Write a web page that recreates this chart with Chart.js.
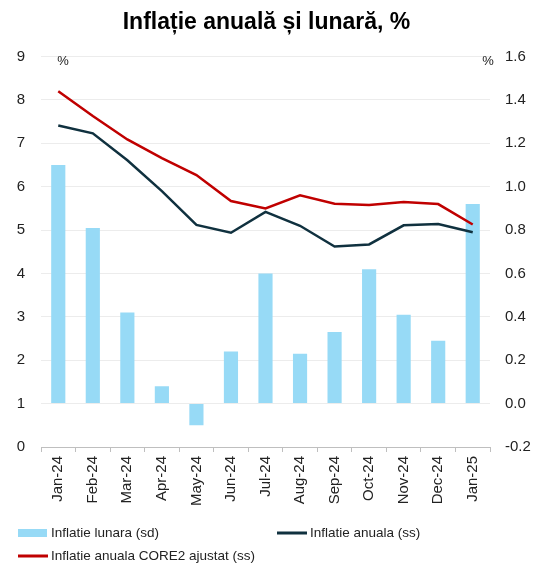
<!DOCTYPE html>
<html>
<head>
<meta charset="utf-8">
<script src="https://cdn.jsdelivr.net/npm/chart.js@4.4.1/dist/chart.umd.min.js"></script>
<style>
  html, body { margin: 0; padding: 0; background: #fff; }
  #wrap { width: 533px; height: 565px; position: relative; }
</style>
</head>
<body>
<div id="wrap"><canvas id="chart" width="533" height="565"></canvas></div>
<script>
const months = ['Jan-24', 'Feb-24', 'Mar-24', 'Apr-24', 'May-24', 'Jun-24', 'Jul-24', 'Aug-24', 'Sep-24', 'Oct-24', 'Nov-24', 'Dec-24', 'Jan-25']
const monthly = [1.10, 0.81, 0.42, 0.08, -0.10, 0.24, 0.60, 0.23, 0.33, 0.62, 0.41, 0.29, 0.92]
const annual = [7.41, 7.23, 6.61, 5.90, 5.12, 4.94, 5.42, 5.10, 4.62, 4.67, 5.11, 5.14, 4.95]
const core2 = [8.20, 7.63, 7.09, 6.66, 6.27, 5.67, 5.50, 5.80, 5.61, 5.58, 5.65, 5.60, 5.13]
const leftTicks = [0, 1, 2, 3, 4, 5, 6, 7, 8, 9]
const rightTicks = [-0.2, 0, 0.2, 0.4, 0.6, 0.8, 1.0, 1.2, 1.4, 1.6]

const font = 'Liberation Sans, Arial, sans-serif'
const colors = { bar: '#97daf6', annual: '#10313f', core2: '#c00000', grid: '#ececec', text: '#222' }

// legend and % marks drawn on the canvas
const extras = {
  id: 'extras',
  afterDraw (chart) {
    const { ctx, chartArea } = chart
    ctx.save()
    ctx.fillStyle = colors.text
    ctx.font = `13px ${font}`
    ctx.textBaseline = 'middle'
    ctx.textAlign = 'center'
    ctx.fillText('%', chartArea.left + 22, chartArea.top + 5)
    ctx.fillText('%', chartArea.right - 2, chartArea.top + 5)
    const items = [
      { x: 18, y: 533, type: 'box', color: colors.bar, text: chart.data.datasets[0].label },
      { x: 277, y: 533, type: 'line', color: colors.annual, text: chart.data.datasets[1].label },
      { x: 18, y: 556, type: 'line', color: colors.core2, text: chart.data.datasets[2].label }
    ]
    ctx.textAlign = 'left'
    ctx.font = `13.5px ${font}`
    items.forEach(item => {
      ctx.fillStyle = item.color
      if (item.type === 'box') ctx.fillRect(item.x, item.y - 4, 29, 8)
      else ctx.fillRect(item.x, item.y - 1.5, 30, 3)
      ctx.fillStyle = colors.text
      ctx.fillText(item.text, item.x + 33, item.y)
    })
    ctx.restore()
  }
}

new Chart(document.getElementById('chart'), {
  type: 'bar',
  data: {
    labels: months,
    datasets: [
      { label: 'Inflatie lunara (sd)', data: monthly, backgroundColor: colors.bar, yAxisID: 'y1', barPercentage: 0.41, categoryPercentage: 1, order: 3 },
      { label: 'Inflatie anuala (ss)', type: 'line', data: annual, borderColor: colors.annual, borderWidth: 2.5, pointRadius: 0, yAxisID: 'y', order: 2, tension: 0 },
      { label: 'Inflatie anuala CORE2 ajustat (ss)', type: 'line', data: core2, borderColor: colors.core2, borderWidth: 2.5, pointRadius: 0, yAxisID: 'y', order: 1, tension: 0 }
    ]
  },
  options: {
    responsive: false,
    animation: false,
    layout: { padding: { top: 0, bottom: 60, left: 0, right: 0 } },
    plugins: {
      legend: { display: false },
      tooltip: { enabled: false },
      title: {
        display: true,
        text: 'Inflație anuală și lunară, %',
        color: '#000',
        font: { family: font, size: 23, weight: 'bold' },
        padding: { top: 9, bottom: 20 }
      }
    },
    scales: {
      x: {
        offset: true,
        grid: { drawOnChartArea: false, drawTicks: true, tickLength: 5, color: '#bfbfbf', offset: true },
        border: { display: true, color: '#bfbfbf' },
        ticks: { color: colors.text, font: { family: font, size: 15 }, minRotation: 90, maxRotation: 90, padding: 4, autoSkip: false },
        afterFit (scale) { scale.height = 58 }
      },
      y: {
        position: 'left',
        min: 0,
        max: 9,
        afterBuildTicks (scale) { scale.ticks = leftTicks.map(value => ({ value })) },
        grid: { color: colors.grid, drawTicks: false, lineWidth: 1 },
        border: { display: false },
        ticks: { color: colors.text, font: { family: font, size: 15 }, padding: 16 },
        afterFit (scale) { scale.width = 41 }
      },
      y1: {
        position: 'right',
        min: -0.2,
        max: 1.6,
        afterBuildTicks (scale) { scale.ticks = rightTicks.map(value => ({ value })) },
        grid: { drawOnChartArea: false, drawTicks: false },
        border: { display: false },
        ticks: { color: colors.text, font: { family: font, size: 15 }, padding: 15, callback: v => v.toFixed(1) },
        afterFit (scale) { scale.width = 43 }
      }
    }
  },
  plugins: [extras]
})
</script>
</body>
</html>
